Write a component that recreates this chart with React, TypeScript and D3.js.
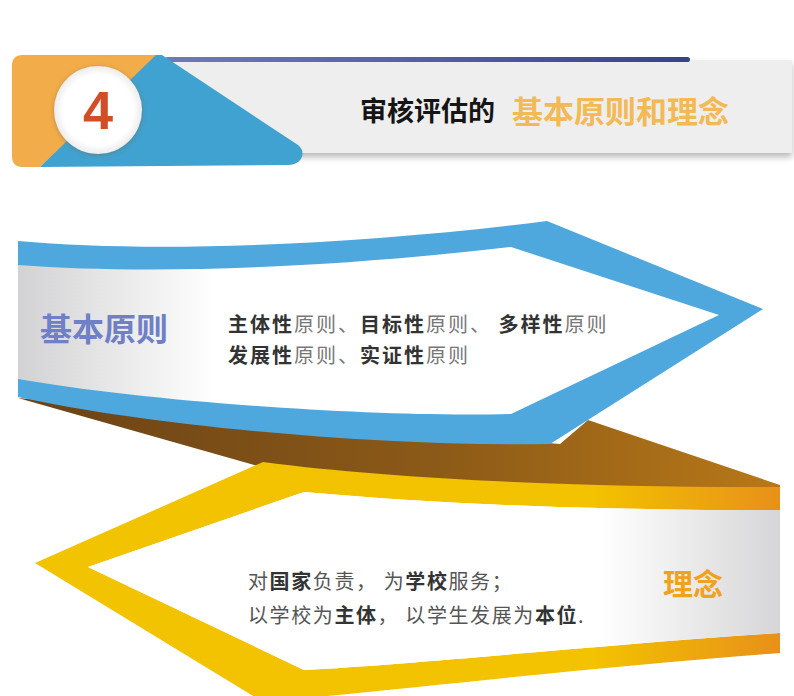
import React from "react";
import * as d3 from "d3";

const W = 794;
const H = 696;

const sectionNumber = ["4"];
const titleParts = [
  { text: "审核评估的", kind: "dark" },
  { text: "基本原则和理念", kind: "accent" },
];
const principleLabel = ["基本原则"];
const principleLine1 = [
  { t: "主体性", b: true }, { t: "原则、", b: false },
  { t: "目标性", b: true }, { t: "原则、 ", b: false },
  { t: "多样性", b: true }, { t: "原则", b: false },
];
const principleLine2 = [
  { t: "发展性", b: true }, { t: "原则、", b: false },
  { t: "实证性", b: true }, { t: "原则", b: false },
];
const ideaLabel = ["理念"];
const ideaLine1 = [
  { t: "对", b: false }, { t: "国家", b: true }, { t: "负责， 为", b: false },
  { t: "学校", b: true }, { t: "服务；", b: false },
];
const ideaLine2 = [
  { t: "以学校为", b: false }, { t: "主体", b: true }, { t: "， 以学生发展为", b: false },
  { t: "本位", b: true }, { t: ".", b: false },
];

const FONT = "'Noto Sans CJK SC', 'Noto Sans', sans-serif";

type P = [number, number];

function shape(segs: (P | [P, P, P])[], close = true): string {
  const p = d3.path();
  segs.forEach((s, i) => {
    if (i === 0) p.moveTo((s as P)[0], (s as P)[1]);
    else if (Array.isArray((s as any)[0])) {
      const [c1, c2, e] = s as [P, P, P];
      p.bezierCurveTo(c1[0], c1[1], c2[0], c2[1], e[0], e[1]);
    } else p.lineTo((s as P)[0], (s as P)[1]);
  });
  if (close) p.closePath();
  return p.toString();
}

export default function App() {
  const orangePath = shape([
    [22, 55], [160, 55], [40, 167], [22, 167], [[16, 167], [12, 163], [12, 157]], [12, 65], [[12, 59], [16, 55], [22, 55]],
  ]);
  const bluePath = shape([
    [156, 55], [162, 55], [298, 145], [[307, 152], [302, 165], [288, 165]], [40, 167],
  ]);

  const blueOuter = shape([
    [18, 241], [[150, 253], [350, 246], [547, 221]], [763, 309], [550, 444],
    [[380, 447], [150, 426], [18, 397]],
  ]);
  const blueInner = shape([
    [18, 265], [[150, 275], [330, 268], [511, 247]], [719, 315], [511, 414],
    [[380, 418], [150, 402], [18, 379]],
  ]);
  const brown = shape([
    [18, 398], [560, 444], [588, 420], [780, 485], [780, 505], [258, 466],
  ]);
  const yellowOuter = shape([
    [35, 563], [263, 462], [[400, 480], [600, 488], [780, 487]], [780, 653],
    [[600, 666], [400, 690], [263, 702]],
  ]);
  const yellowInner = shape([
    [88, 567], [304, 492], [[450, 505], [620, 511], [780, 510]], [780, 633],
    [[600, 645], [420, 664], [304, 670]],
  ]);

  return (
    <svg width={W} height={H} style={{ display: "block", position: "absolute", left: 0, top: 0, background: "#fff" }}>
      <defs>
        <filter id="shadow" x="-10%" y="-20%" width="120%" height="160%">
          <feDropShadow dx="0" dy="4" stdDeviation="3" floodColor="#000" floodOpacity="0.28" />
        </filter>
        <filter id="cshadow" x="-30%" y="-30%" width="160%" height="160%">
          <feDropShadow dx="0" dy="1" stdDeviation="2.5" floodColor="#7a5a30" floodOpacity="0.45" />
        </filter>
        <linearGradient id="navy" x1="0" x2="1">
          <stop offset="0" stopColor="#6b7db5" />
          <stop offset="1" stopColor="#33458a" />
        </linearGradient>
        <linearGradient id="blueGray" x1="18" x2="215" gradientUnits="userSpaceOnUse">
          <stop offset="0" stopColor="#d2d2d4" />
          <stop offset="1" stopColor="#ffffff" />
        </linearGradient>
        <linearGradient id="brownG" x1="18" x2="780" gradientUnits="userSpaceOnUse">
          <stop offset="0" stopColor="#6a4216" />
          <stop offset="0.55" stopColor="#8c5a18" />
          <stop offset="1" stopColor="#b87818" />
        </linearGradient>
        <linearGradient id="yellowG" x1="35" x2="780" gradientUnits="userSpaceOnUse">
          <stop offset="0" stopColor="#f2c300" />
          <stop offset="0.75" stopColor="#f3c200" />
          <stop offset="1" stopColor="#e8901a" />
        </linearGradient>
        <linearGradient id="yellowGray" x1="600" x2="780" gradientUnits="userSpaceOnUse">
          <stop offset="0" stopColor="#ffffff" />
          <stop offset="1" stopColor="#d6d6d8" />
        </linearGradient>
        <radialGradient id="circleG" cx="0.5" cy="0.5" r="0.5">
          <stop offset="0.8" stopColor="#ffffff" />
          <stop offset="1" stopColor="#ececec" />
        </radialGradient>
      </defs>

      {/* header */}
      <rect x={160} y={60} width={632} height={93} fill="#eeeeee" filter="url(#shadow)" />
      <rect x={165} y={57} width={525} height={5} rx={2.5} fill="url(#navy)" />
      <path d={orangePath} fill="#f2ad4a" />
      <path d={bluePath} fill="#40a2d0" />
      <circle cx={98} cy={110} r={44} fill="url(#circleG)" filter="url(#cshadow)" />
      <text x={98} y={129} textAnchor="middle" fontSize={54} fontWeight={700}
        fontFamily="'Liberation Sans', Arial, sans-serif" fill="#d04f28">{sectionNumber[0]}</text>
      <text y={121} fontFamily={FONT} fontWeight={700}>
        <tspan x={360} fontSize={27} fill="#151515">{titleParts[0].text}</tspan>
        <tspan x={512} dy={2} fontSize={31} fill="#f3b955">{titleParts[1].text}</tspan>
      </text>

      {/* ribbons */}
      <path d={brown} fill="url(#brownG)" />
      <path d={blueOuter} fill="#4ea8de" />
      <path d={blueInner} fill="url(#blueGray)" />
      <path d={yellowOuter} fill="url(#yellowG)" />
      <path d={yellowInner} fill="#ffffff" />
      <path d={yellowInner} fill="url(#yellowGray)" />

      {/* principles */}
      <text x={40} y={341} fontSize={32} fontWeight={700} fontFamily={FONT} fill="#6f80c6">{principleLabel[0]}</text>
      {[principleLine1, principleLine2].map((line, i) => (
        <text key={i} x={228} y={332 + i * 31} fontSize={20} letterSpacing={2} fontFamily={FONT}>
          {line.map((s, j) => (
            <tspan key={j} fontWeight={s.b ? 700 : 400} fill={s.b ? "#333" : "#777"}>{s.t}</tspan>
          ))}
        </text>
      ))}

      {/* ideas */}
      {[ideaLine1, ideaLine2].map((line, i) => (
        <text key={i} x={248} y={589 + i * 34} fontSize={20} letterSpacing={1.6} fontFamily={FONT}>
          {line.map((s, j) => (
            <tspan key={j} fontWeight={s.b ? 700 : 400} fill={s.b ? "#333" : "#555"}>{s.t}</tspan>
          ))}
        </text>
      ))}
      <text x={693} y={595} textAnchor="middle" fontSize={30} fontWeight={700} fontFamily={FONT} fill="#f0a21e">{ideaLabel[0]}</text>
    </svg>
  );
}
